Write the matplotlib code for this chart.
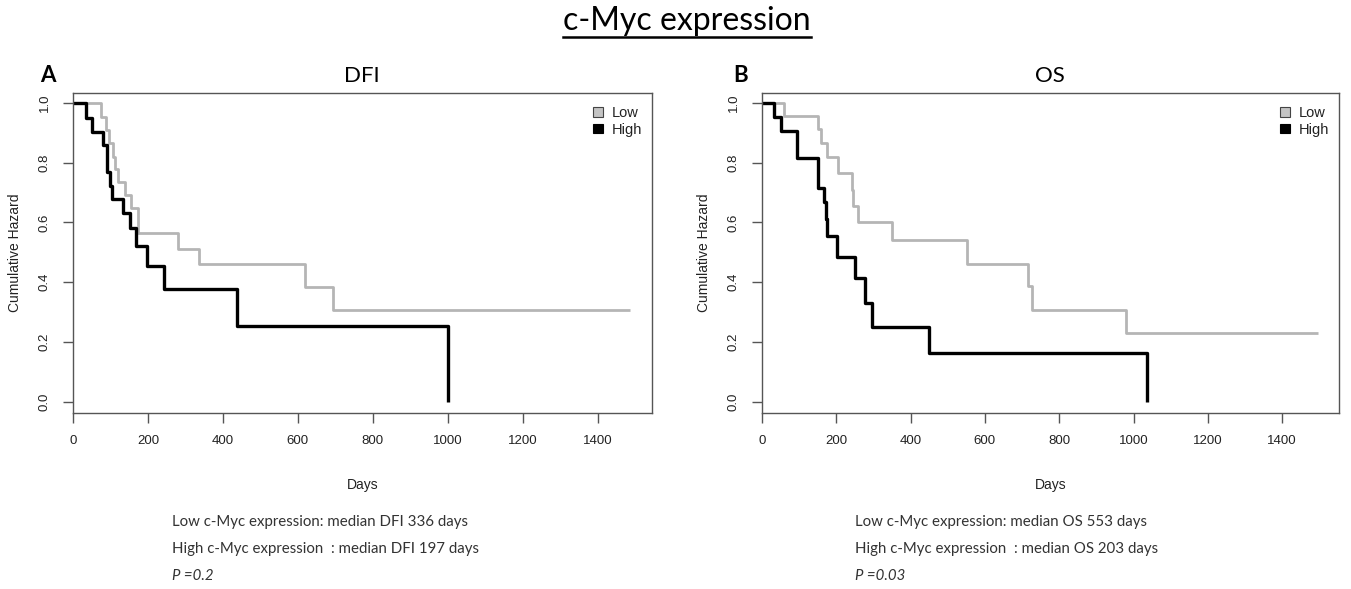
import matplotlib
matplotlib.use('Agg')
import matplotlib.pyplot as plt
from matplotlib.patches import Patch
from matplotlib.lines import Line2D

plt.rcParams['font.family'] = ['Liberation Sans', 'DejaVu Sans']

W, H = 1351, 589

# Kaplan-Meier steps (days, proportion)
dfi_low_days = [0, 76, 88, 97, 106, 112, 119, 139, 156, 174, 281, 336, 620, 694, 1485]
dfi_low_surv = [1.0, 0.954, 0.910, 0.865, 0.820, 0.778, 0.735, 0.692, 0.648, 0.565, 0.512, 0.460, 0.383, 0.308, 0.308]
dfi_high_days = [0, 35, 50, 81, 90, 99, 103, 134, 152, 168, 197, 243, 437, 1000]
dfi_high_surv = [1.0, 0.951, 0.904, 0.860, 0.770, 0.723, 0.679, 0.631, 0.580, 0.523, 0.456, 0.379, 0.254, 0.0]

os_low_days = [0, 58, 150, 160, 175, 204, 241, 246, 258, 350, 553, 715, 728, 981, 1497]
os_low_surv = [1.0, 0.955, 0.911, 0.866, 0.818, 0.766, 0.710, 0.656, 0.600, 0.540, 0.462, 0.387, 0.309, 0.231, 0.231]
os_high_days = [0, 33, 51, 94, 152, 166, 172, 176, 203, 249, 278, 296, 450, 1035]
os_high_surv = [1.0, 0.952, 0.905, 0.815, 0.714, 0.667, 0.612, 0.554, 0.485, 0.415, 0.331, 0.249, 0.165, 0.0]

x_ticks = [0, 200, 400, 600, 800, 1000, 1200, 1400]
y_ticks = [0.0, 0.2, 0.4, 0.6, 0.8, 1.0]
group_labels = ['Low', 'High']

notes_dfi = ['Low c-Myc expression: median DFI 336 days',
             'High c-Myc expression  : median DFI 197 days',
             'P =0.2']
notes_os = ['Low c-Myc expression: median OS 553 days',
            'High c-Myc expression  : median OS 203 days',
            'P =0.03']

LOW_COL = '#b5b5b5'
AXIS_COL = '#555555'
TXT_COL = '#222222'


def px(x, y):
    return x / W, 1 - y / H


def km_panel(ax, low_t, low_s, high_t, high_s, xmax):
    ax.step(low_t, low_s, where='post', color=LOW_COL, lw=2.0, solid_capstyle='butt')
    ax.step(high_t, high_s, where='post', color='black', lw=2.4, solid_capstyle='butt')
    ax.set_xlim(0, xmax)
    ax.set_ylim(-0.037, 1.033)
    ax.set_xticks(x_ticks)
    ax.set_xticklabels([str(t) for t in x_ticks])
    ax.set_yticks(y_ticks)
    ax.set_yticklabels(['%.1f' % v for v in y_ticks], rotation=90, va='center')
    ax.tick_params(axis='both', length=7, width=1, color=AXIS_COL,
                   labelsize=9.5, labelcolor=TXT_COL)
    ax.tick_params(axis='x', pad=9)
    ax.tick_params(axis='y', pad=9)
    for s in ax.spines.values():
        s.set_color(AXIS_COL)
        s.set_linewidth(1.0)
    ax.set_xlabel('Days', fontsize=10, color=TXT_COL, labelpad=22)
    ax.set_ylabel('Cumulative Hazard', fontsize=10, color=TXT_COL, labelpad=12)
    handles = [Patch(facecolor='#c4c4c4', edgecolor='#444444', lw=0.8),
               Patch(facecolor='black', edgecolor='black', lw=0.8)]
    ax.legend(handles, group_labels, loc='upper right', bbox_to_anchor=(1.0, 0.99),
              frameon=False, fontsize=10.5, handlelength=0.65, handleheight=0.65,
              handletextpad=0.6, labelspacing=0.15, borderaxespad=0.3,
              labelcolor=TXT_COL)


fig = plt.figure(figsize=(W / 100, H / 100), dpi=100)
fig.set_facecolor('white')

ax_a = fig.add_axes([73 / W, (H - 413) / H, 579 / W, 320 / H])
ax_b = fig.add_axes([762 / W, (H - 413) / H, 577 / W, 320 / H])
km_panel(ax_a, dfi_low_days, dfi_low_surv, dfi_high_days, dfi_high_surv, 1545)
km_panel(ax_b, os_low_days, os_low_surv, os_high_days, os_high_surv, 1553)

cal = ['Lato', 'DejaVu Sans']
title = fig.text(*px(687, 21), 'c-Myc expression', family=cal, fontsize=23,
                 ha='center', va='center', color='black')
fig.text(*px(48, 76), 'A', family=cal, fontsize=16, weight='bold', ha='center', va='center')
fig.text(*px(362, 76), 'DFI', family=cal, fontsize=16, ha='center', va='center')
fig.text(*px(741, 76), 'B', family=cal, fontsize=16, weight='bold', ha='center', va='center')
fig.text(*px(1050, 76), 'OS', family=cal, fontsize=16, ha='center', va='center')

for x0, notes in ((172, notes_dfi), (855, notes_os)):
    for i, line in enumerate(notes):
        style = 'italic' if line.startswith('P') else 'normal'
        fig.text(*px(x0, 522 + 27 * i), line, family=cal, fontsize=10.8,
                 style=style, ha='left', va='center', color='#333333')

# underline the heading
fig.canvas.draw()
bb = title.get_window_extent()
y_ul = bb.y0 - 1
fig.add_artist(Line2D([bb.x0 / W, bb.x1 / W], [y_ul / H, y_ul / H],
                      transform=fig.transFigure, color='black', lw=1.8))

fig.savefig('out.png', dpi=100, facecolor='white')
